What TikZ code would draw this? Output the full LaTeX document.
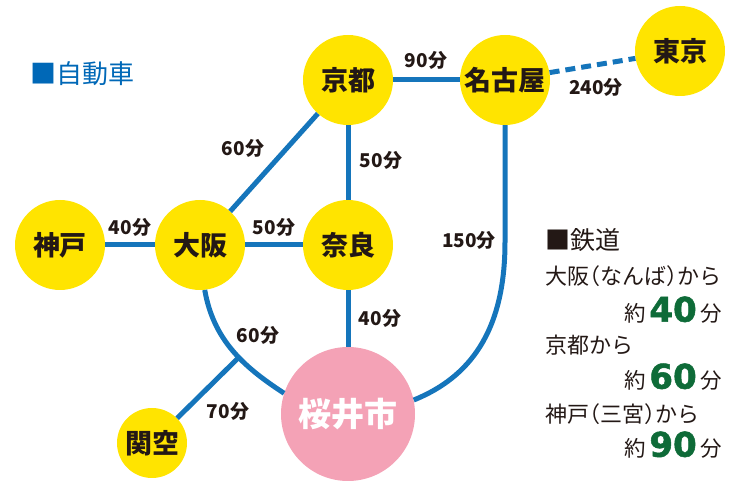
\documentclass[tikz,border=0pt]{standalone}
\usepackage{fontspec}
\newfontfamily\jp{Noto Sans CJK JP}
\newfontfamily\jpalt{Noto Sans CJK JP}[RawFeature=+halt]
\newfontfamily\numfont{DejaVu Sans Bold}[FakeBold=1.5]
\definecolor{azulruta}{HTML}{1575BB}
\definecolor{amarillo}{HTML}{FFE400}
\definecolor{rosa}{HTML}{F4A2B6}
\definecolor{tinta}{HTML}{231815}
\definecolor{azul}{HTML}{0068B7}
\definecolor{verde}{HTML}{0E6B38}
\newcommand{\cifra}[1]{{\numfont\fontsize{34}{36}\selectfont\textcolor{verde}{#1}}}

\begin{document}
\begin{tikzpicture}[x=1pt, y=1pt,
    ciudad/.style={circle, fill=amarillo, minimum size=90pt, inner sep=0pt, text=tinta, font=\jp\bfseries\fontsize{27}{30}\selectfont},
    tiempo/.style={inner sep=0pt, text=tinta, font=\jp\bfseries\fontsize{19}{22}\selectfont},
    linea/.style={draw=azulruta, line width=5pt},
    texto/.style={inner sep=0pt, anchor=west, text=tinta, font=\jpalt\fontsize{22}{24}\selectfont},
    minutos/.style={inner sep=0pt, anchor=east, text=tinta, font=\jp\fontsize{21.5}{24}\selectfont}]
  \useasboundingbox (0,0) rectangle (729,482);

  % Ciudades
  \node[ciudad] (kioto) at (348,402) {京都};
  \node[ciudad] (nagoya) at (505,402) {名古屋};
  \node[ciudad] (tokio) at (680,431) {東京};
  \node[ciudad] (kobe) at (60,237) {神戸};
  \node[ciudad] (osaka) at (200,237) {大阪};
  \node[ciudad] (nara) at (348,237) {奈良};
  \node[ciudad, minimum size=70pt] (kanku) at (152,39) {関空};
  \node[ciudad, fill=rosa, text=white, minimum size=134pt, font=\jp\bfseries\fontsize{33}{36}\selectfont] (sakurai) at (348,68) {桜井市};
  \coordinate (codo) at (505,240);

  % Rutas
  \draw[linea] (kioto) -- (nagoya);
  \draw[linea, dash pattern=on 10pt off 6pt] (nagoya) -- (tokio);
  \draw[linea] (kioto) -- (osaka);
  \draw[linea] (kioto) -- (nara);
  \draw[linea] (kobe) -- (osaka);
  \draw[linea] (osaka) -- (nara);
  \draw[linea] (nara) -- (sakurai);
  \draw[linea] (nagoya) -- (codo) .. controls +(0,-90) and +(55.6,22.5) .. (sakurai.12);
  \draw[linea] (osaka.-84) .. controls +(-80:50) and +(147:50) .. (sakurai.162) coordinate[pos=0.58] (cruce);
  \draw[linea] (cruce) -- (kanku);

  % Tiempos
  \node[tiempo] (t1) at (243,334) {60分};
  \node[tiempo] (t2) at (381,322) {50分};
  \node[tiempo] (t3) at (426,422) {90分};
  \node[tiempo] (t4) at (596,395) {240分};
  \node[tiempo] (t5) at (130,255) {40分};
  \node[tiempo] (t6) at (274,255) {50分};
  \node[tiempo] (t7) at (469,242) {150分};
  \node[tiempo] (t8) at (258,147) {60分};
  \node[tiempo] (t9) at (380,164) {40分};
  \node[tiempo] (t10) at (228,71) {70分};

  % Leyenda
  \node[texto, text=azul, font=\jp\fontsize{26}{28}\selectfont] (coche) at (30,408) {■自動車};
  \node[texto, font=\jp\fontsize{25}{28}\selectfont] (tren) at (545,242) {■鉄道};
  \node[texto] (l1) at (545,206) {大阪（なんば）から};
  \node[minutos] (m1) at (722,172) {約\,\cifra{40}\,分};
  \node[texto] (l2) at (545,137) {京都から};
  \node[minutos] (m2) at (722,105) {約\,\cifra{60}\,分};
  \node[texto] (l3) at (545,68) {神戸（三宮）から};
  \node[minutos] (m3) at (722,37) {約\,\cifra{90}\,分};
\end{tikzpicture}
\end{document}
